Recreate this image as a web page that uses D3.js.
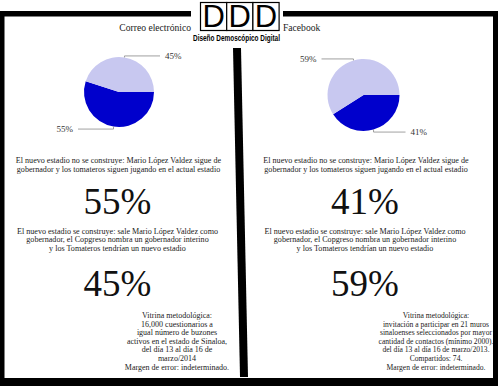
<!DOCTYPE html>
<html>
<head>
<meta charset="utf-8">
<script src="https://cdn.jsdelivr.net/npm/d3@7"></script>
<style>
  body { margin: 0; background: #fff; }
  svg text { font-family: "Liberation Serif", "Times New Roman", serif; fill: #1a1a1a; }
</style>
</head>
<body>
<div id="chart"></div>
<script>
// data
const channels = ['Correo electrónico', 'Facebook'];
const noSeConstruye = [55, 41];
const siSeConstruye = [45, 59];

const optionNo = ['El nuevo estadio no se construye: Mario López Valdez sigue de',
  'gobernador y los tomateros siguen jugando en el actual estadio'];
const optionSi = ['El nuevo estadio se construye: sale Mario López Valdez como',
  'gobernador, el Copgreso nombra un gobernador interino',
  'y los Tomateros tendrían un nuevo estadio'];
const vitrina = [
  ['Vitrina metodológica:', '16,000 cuestionarios a', 'igual número de buzones',
   'activos en el estado de Sinaloa,', 'del día 13 al día 16 de', 'marzo/2014',
   'Margen de error: indeterminado.'],
  ['Vitrina metodológica:', 'invitación a participar en 21 muros',
   'sinaloenses seleccionados por mayor', 'cantidad de contactos (mínimo 2000).',
   'del día 13 al día 16 de marzo/2013.', 'Compartidos: 74.',
   'Margen de error: indeterminado.']
];
const logoLetters = ['D', 'D', 'D'];
const logoTitle = 'Diseño Demoscópico Digital';

const W = 500, H = 386;
const darkBlue = '#0000cc', lightBlue = '#c8c8f0';
const serif = '"Liberation Serif", "Times New Roman", serif';

const svg = d3.select('#chart').append('svg')
  .attr('width', W).attr('height', H);

// frame
const frame = svg.append('g').attr('fill', '#000');
frame.append('rect').attr('x', 0).attr('y', 11).attr('width', 191).attr('height', 5.5);
frame.append('rect').attr('x', 283).attr('y', 11).attr('width', 215).attr('height', 5.5);
frame.append('rect').attr('x', 0).attr('y', 11).attr('width', 4.5).attr('height', 375);
frame.append('rect').attr('x', 493).attr('y', 11).attr('width', 5).attr('height', 375);
frame.append('rect').attr('x', 0).attr('y', 378).attr('width', 498).attr('height', 8);
frame.append('path').attr('d', 'M233,48 L241,48 L248,377 L240,377 Z');

// logo
const logo = svg.append('g');
logo.selectAll('rect').data(logoLetters).join('rect')
  .attr('x', (d, i) => 200.5 + i * 26.2).attr('y', 2.5)
  .attr('width', 26.2).attr('height', 28)
  .attr('fill', '#fff').attr('stroke', '#000').attr('stroke-width', 1.2);
logo.selectAll('text').data(logoLetters).join('text')
  .attr('x', (d, i) => 213.6 + i * 26.2).attr('y', 27)
  .attr('text-anchor', 'middle')
  .style('font-family', '"Liberation Sans", Arial, sans-serif')
  .style('font-size', '31px').style('fill', '#000')
  .text(d => d);
logo.append('text')
  .attr('x', 193).attr('y', 40.5)
  .attr('textLength', 87).attr('lengthAdjust', 'spacingAndGlyphs')
  .style('font-family', '"Liberation Sans Narrow", "Liberation Sans", Arial, sans-serif')
  .style('font-weight', 'bold').style('font-size', '8.5px').style('fill', '#000')
  .text(logoTitle);

svg.append('text').attr('x', 191).attr('y', 30.5).attr('text-anchor', 'end')
  .style('font-family', serif).style('font-size', '9.6px').text(channels[0]);
svg.append('text').attr('x', 283).attr('y', 31).attr('text-anchor', 'start')
  .style('font-family', serif).style('font-size', '9.6px').text(channels[1]);

// panels
const panels = [
  { cx: 119, cy: 92, r: 35, tx: 118.5, vx: 177, vs: 8 },
  { cx: 363.5, cy: 95, r: 36, tx: 366, vx: 436, vs: 7.6 }
];

const pie = d3.pie().sort(null).value(d => d.value)
  .startAngle(Math.PI / 2).endAngle(Math.PI / 2 + 2 * Math.PI);

panels.forEach((p, i) => {
  const slices = [
    { key: 'no', value: noSeConstruye[i], color: darkBlue },
    { key: 'si', value: siSeConstruye[i], color: lightBlue }
  ];
  const arcs = pie(slices);
  const arc = d3.arc().innerRadius(0).outerRadius(p.r);
  const g = svg.append('g').attr('transform', `translate(${p.cx},${p.cy})`);
  g.selectAll('path').data(arcs).join('path')
    .attr('d', arc).attr('fill', d => d.data.color);

  // leader lines + labels
  arcs.forEach(a => {
    const mid = (a.startAngle + a.endAngle) / 2;
    const ex = p.r * Math.sin(mid), ey = -p.r * Math.cos(mid);
    const right = Math.sin(mid) > 0;
    const ly = ey + (ey < 0 ? -1.5 : 2.5);
    const lx = right ? p.r + 6 : -(p.r + 6);
    g.append('path')
      .attr('d', `M${ex},${ey} L${ex},${ly} L${lx},${ly}`)
      .attr('fill', 'none').attr('stroke', '#888').attr('stroke-width', 0.8);
    g.append('text')
      .attr('x', right ? lx + 5 : lx - 5).attr('y', ly + 3)
      .attr('text-anchor', right ? 'start' : 'end')
      .style('font-family', serif).style('font-size', '9px').style('fill', '#333')
      .text(a.data.value + '%');
  });

  // option text blocks
  svg.append('g').selectAll('text').data(optionNo).join('text')
    .attr('x', p.tx).attr('y', (d, j) => 162.5 + j * 9)
    .attr('text-anchor', 'middle')
    .style('font-family', serif).style('font-size', '8.1px').text(d => d);
  svg.append('text').attr('x', p.tx - 1).attr('y', 213.5)
    .attr('text-anchor', 'middle')
    .style('font-family', serif).style('font-size', '37px').style('fill', '#111')
    .text(noSeConstruye[i] + '%');
  svg.append('g').selectAll('text').data(optionSi).join('text')
    .attr('x', p.tx - 1).attr('y', (d, j) => 233.5 + j * 8.8)
    .attr('text-anchor', 'middle')
    .style('font-family', serif).style('font-size', '8.1px').text(d => d);
  svg.append('text').attr('x', p.tx - 1).attr('y', 295.5)
    .attr('text-anchor', 'middle')
    .style('font-family', serif).style('font-size', '37px').style('fill', '#111')
    .text(siSeConstruye[i] + '%');

  svg.append('g').selectAll('text').data(vitrina[i]).join('text')
    .attr('x', p.vx).attr('y', (d, j) => 318 + j * 8.6)
    .attr('text-anchor', 'middle')
    .style('font-family', serif).style('font-size', p.vs + 'px').text(d => d);
});
</script>
</body>
</html>
